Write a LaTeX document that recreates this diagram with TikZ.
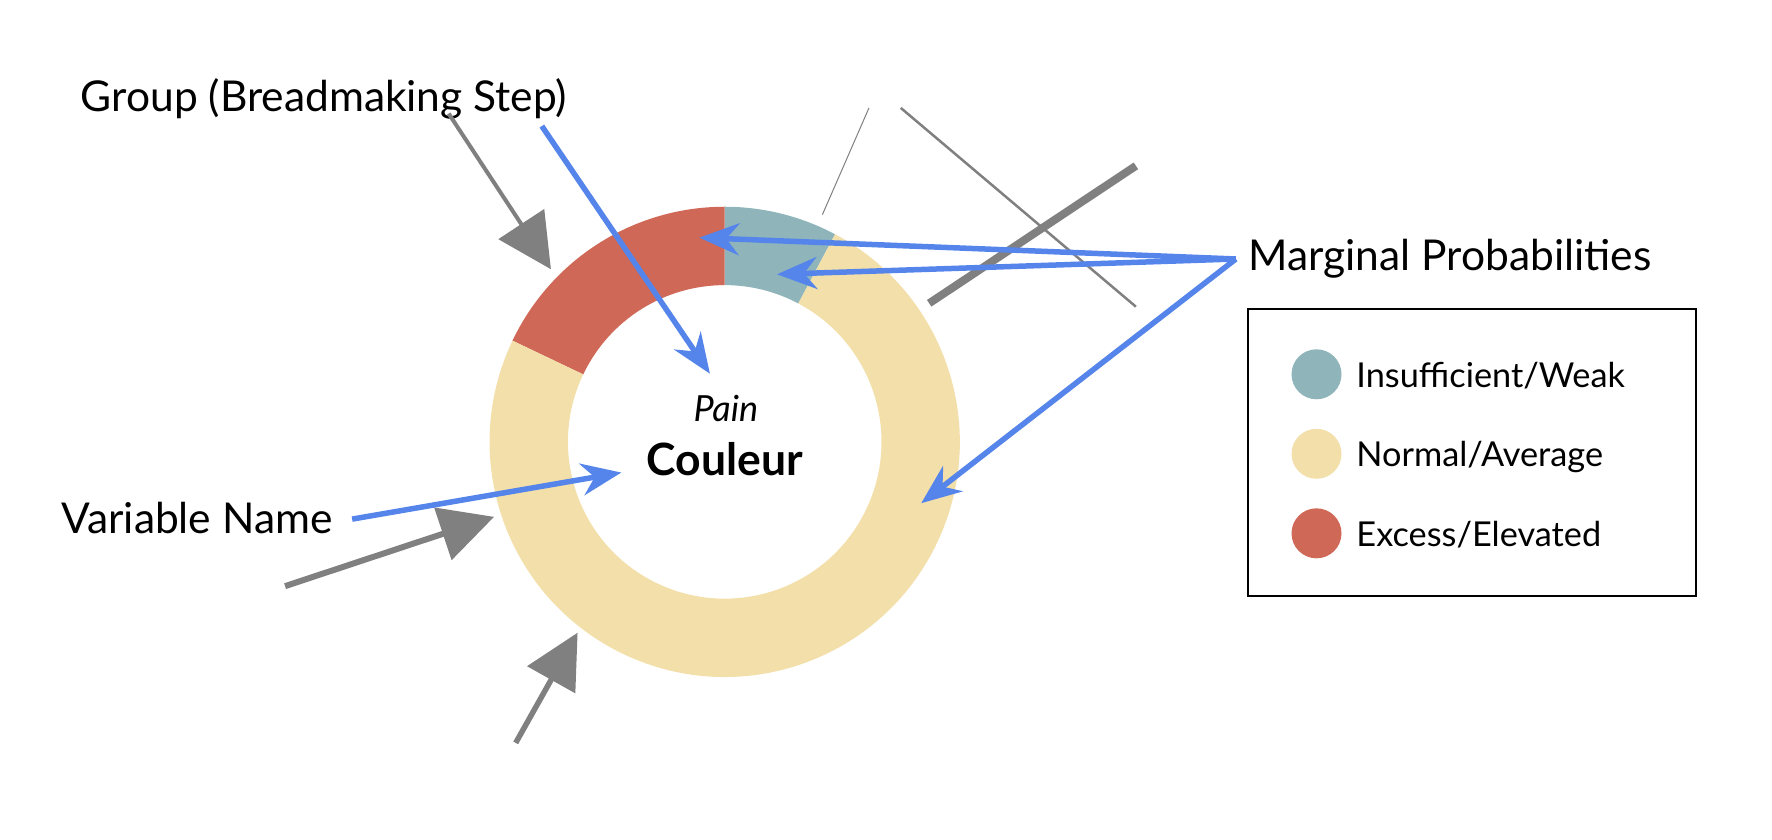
\documentclass[tikz,border=0pt]{standalone}
\usepackage{fontspec}
\setmainfont{Lato}
\usetikzlibrary{arrows.meta}
\definecolor{tealc}{HTML}{8FB5BB}
\definecolor{redc}{HTML}{CF6856}
\definecolor{yelc}{HTML}{F3DFAA}
\definecolor{bluec}{HTML}{5585EA}
\definecolor{greyc}{HTML}{808080}
\tikzset{
  bluearrow/.style={draw=bluec, line width=5.5pt, -{Stealth[length=40pt,width=32pt,inset=13pt]}},
  greyarrow/.style={draw=greyc, -{Triangle[length=54pt,width=54pt]}},
  label/.style={inner sep=0pt, anchor=base west, font=\fontsize{42.5}{48}\selectfont},
  legtext/.style={inner sep=0pt, anchor=base west, font=\fontsize{34.3}{38}\selectfont},
  legdot/.style={circle, inner sep=0pt, minimum size=50pt},
}
\begin{document}
\begin{tikzpicture}[x=1.1359pt, y=-1.1359pt]
\useasboundingbox (0,0) rectangle (1560,739.5);
% donut
\begin{scope}[shift={(638,389)}, yscale=-1]
  \fill[tealc] (62:207) arc[start angle=62, end angle=90, radius=207] -- (90:138) arc[start angle=90, end angle=62, radius=138] -- cycle;
  \fill[redc] (90:207) arc[start angle=90, end angle=154.5, radius=207] -- (154.5:138) arc[start angle=154.5, end angle=90, radius=138] -- cycle;
  \fill[yelc] (154.5:207) arc[start angle=154.5, end angle=422, radius=207] -- (422:138) arc[start angle=422, end angle=154.5, radius=138] -- cycle;
\end{scope}
% center texts
\node[inner sep=0pt, anchor=base, font=\fontsize{36}{40}\selectfont\itshape] (pain) at (639,371) {Pain};
\node[inner sep=0pt, anchor=base, font=\fontsize{44.5}{50}\selectfont\bfseries] (couleur) at (638,419) {Couleur};
% labels
\node[label] (group) at (71,98) {Group (Breadmaking Step)};
\node[label] (varname) at (54,470) {Variable Name};
\node[label] (marg) at (1099,238) {Marginal Probabilities};
% legend
\node[draw=black, line width=2pt, minimum width=394pt*1.1359, minimum height=253pt*1.1359, anchor=north west, inner sep=0pt] (legend) at (1098,271) {};
\node[legdot, fill=tealc] (d1) at (1159,329.5) {};
\node[legdot, fill=yelc] (d2) at (1159,399.5) {};
\node[legdot, fill=redc] (d3) at (1159,469.5) {};
\node[legtext] (t1) at (1194,341) {Insufficient/Weak};
\node[legtext] (t2) at (1194,411) {Normal/Average};
\node[legtext] (t3) at (1194,481) {Excess/Elevated};
% grey lines
\coordinate (g1a) at (765,95); \coordinate (g1b) at (724,189);
\coordinate (g2a) at (793,95); \coordinate (g2b) at (1000,270);
\coordinate (g3a) at (818,267); \coordinate (g3b) at (1000,146);
\draw[greyc, line width=1pt] (g1a) -- (g1b);
\draw[greyc, line width=2.5pt] (g2a) -- (g2b);
\draw[greyc, line width=8pt] (g3a) -- (g3b);
% grey arrows
\coordinate (ga0) at (395,100); \coordinate (ga1) at (485,237);
\coordinate (gb0) at (251,516); \coordinate (gb1) at (435,455);
\coordinate (gc0) at (454,654); \coordinate (gc1) at (508.5,557);
\draw[greyarrow, line width=4pt] (ga0) -- (ga1);
\draw[greyarrow, line width=6pt] (gb0) -- (gb1);
\draw[greyarrow, line width=5.5pt] (gc0) -- (gc1);
% blue arrows
\coordinate (b1s) at (477,111); \coordinate (b1e) at (625,329);
\coordinate (b2s) at (310,457); \coordinate (b2e) at (547,416);
\coordinate (ms) at (1088,228);
\coordinate (b3e) at (615.6,209.2);
\coordinate (b4e) at (684,241.5);
\coordinate (b5e) at (811,443);
\draw[bluearrow] (b1s) -- (b1e);
\draw[bluearrow] (b2s) -- (b2e);
\draw[bluearrow] (ms) -- (b3e);
\draw[bluearrow] (ms) -- (b4e);
\draw[bluearrow] (ms) -- (b5e);
\end{tikzpicture}
\end{document}
